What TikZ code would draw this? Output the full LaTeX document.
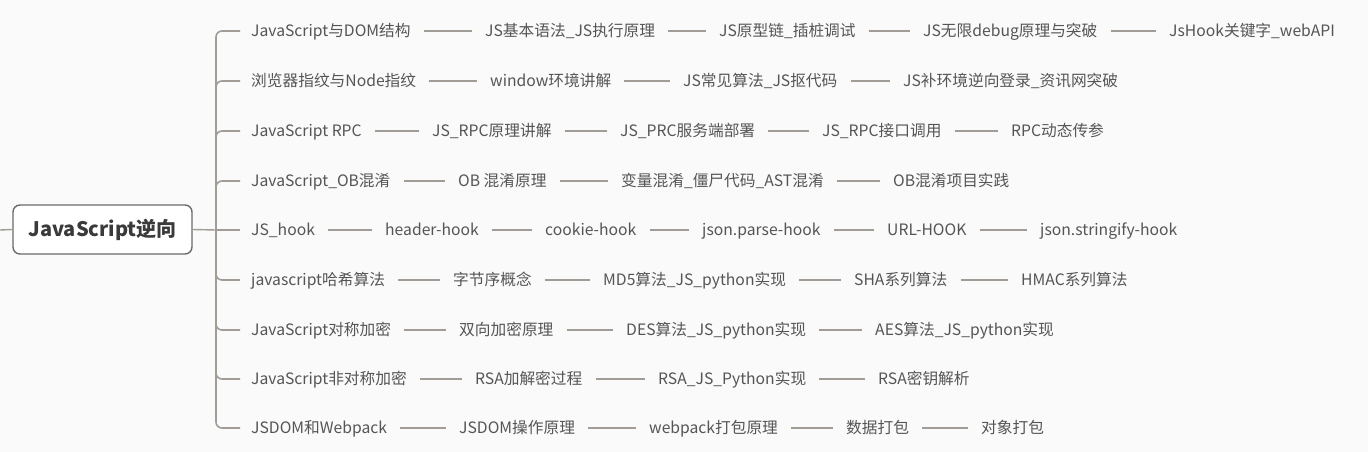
\documentclass[tikz,border=0pt]{standalone}
\usepackage{fontspec}
\setmainfont{Noto Sans CJK SC}
\definecolor{bg}{HTML}{FAFAFA}
\definecolor{txt}{HTML}{555555}
\definecolor{ln}{HTML}{A29C96}
\definecolor{rootbd}{HTML}{6B6B6B}
\definecolor{roottxt}{HTML}{3A3A3A}
\tikzset{
  item/.style={anchor=west, inner xsep=0pt, inner ysep=0pt, text height=13pt, text depth=2pt,
    font=\fontsize{15.7}{18}\selectfont, text=txt},
  link/.style={draw=ln, line width=1.4pt},
  branch/.style={draw=ln, line width=1.6pt, rounded corners=6pt},
  rootbox/.style={draw=rootbd, line width=1.4pt, fill=white, rounded corners=7pt,
    minimum width=179pt, minimum height=49pt, inner sep=0pt,
    font=\fontsize{20}{24}\selectfont\bfseries, text=roottxt}
}
\begin{document}
\begin{tikzpicture}[x=1pt, y=-1pt]
\useasboundingbox (0,0) rectangle (1368,452);
\fill[bg] (0,0) rectangle (1368,452);

\node[rootbox] (root) at (102.5,229.5) {JavaScript逆向};
\coordinate (stub) at (0,230);
\coordinate (hub) at (216,230);
\draw[link] (stub) -- (root.west);

% row 1
\node[item] (r1a) at (251,31) {JavaScript与DOM结构};
\node[item] (r1b) at (485,31) {JS基本语法\_JS执行原理};
\node[item] (r1c) at (719,31) {JS原型链\_插桩调试};
\node[item] (r1d) at (923,31) {JS无限debug原理与突破};
\node[item] (r1e) at (1169,31) {JsHook关键字\_webAPI};
% row 2
\node[item] (r2a) at (251,81) {浏览器指纹与Node指纹};
\node[item] (r2b) at (490,81) {window环境讲解};
\node[item] (r2c) at (683,81) {JS常见算法\_JS抠代码};
\node[item] (r2d) at (903,81) {JS补环境逆向登录\_资讯网突破};
% row 3
\node[item] (r3a) at (251,131) {JavaScript RPC};
\node[item] (r3b) at (432,131) {JS\_RPC原理讲解};
\node[item] (r3c) at (620,131) {JS\_PRC服务端部署};
\node[item] (r3d) at (822,131) {JS\_RPC接口调用};
\node[item] (r3e) at (1011,131) {RPC动态传参};
% row 4
\node[item] (r4a) at (251,181) {JavaScript\_OB混淆};
\node[item] (r4b) at (458,181) {OB 混淆原理};
\node[item] (r4c) at (621,181) {变量混淆\_僵尸代码\_AST混淆};
\node[item] (r4d) at (893,181) {OB混淆项目实践};
% row 5
\node[item] (r5a) at (251,230) {JS\_hook};
\node[item] (r5b) at (385,230) {header-hook};
\node[item] (r5c) at (545,230) {cookie-hook};
\node[item] (r5d) at (702,230) {json.parse-hook};
\node[item] (r5e) at (887,230) {URL-HOOK};
\node[item] (r5f) at (1040,230) {json.stringify-hook};
% row 6
\node[item] (r6a) at (251,280) {javascript哈希算法};
\node[item] (r6b) at (453,280) {字节序概念};
\node[item] (r6c) at (603,280) {MD5算法\_JS\_python实现};
\node[item] (r6d) at (854,280) {SHA系列算法};
\node[item] (r6e) at (1021,280) {HMAC系列算法};
% row 7
\node[item] (r7a) at (251,330) {JavaScript对称加密};
\node[item] (r7b) at (459,330) {双向加密原理};
\node[item] (r7c) at (626,330) {DES算法\_JS\_python实现};
\node[item] (r7d) at (875,330) {AES算法\_JS\_python实现};
% row 8
\node[item] (r8a) at (251,379) {JavaScript非对称加密};
\node[item] (r8b) at (475,379) {RSA加解密过程};
\node[item] (r8c) at (658,379) {RSA\_JS\_Python实现};
\node[item] (r8d) at (878,379) {RSA密钥解析};
% row 9
\node[item] (r9a) at (251,428) {JSDOM和Webpack};
\node[item] (r9b) at (459,428) {JSDOM操作原理};
\node[item] (r9c) at (649,428) {webpack打包原理};
\node[item] (r9d) at (846,428) {数据打包};
\node[item] (r9e) at (981,428) {对象打包};

% trunk and branches
\draw[link] (root.east) -- (hub);
\foreach \n in {r1a,r2a,r3a,r4a,r6a,r7a,r8a,r9a}
  \draw[branch] (hub) |- ([xshift=-11pt]\n.west);
\draw[link] (hub) -- ([xshift=-11pt]r5a.west);

% connectors
\foreach \a/\b in {r1a/r1b,r1b/r1c,r1c/r1d,r1d/r1e,
                   r2a/r2b,r2b/r2c,r2c/r2d,
                   r3a/r3b,r3b/r3c,r3c/r3d,r3d/r3e,
                   r4a/r4b,r4b/r4c,r4c/r4d,
                   r5a/r5b,r5b/r5c,r5c/r5d,r5d/r5e,r5e/r5f,
                   r6a/r6b,r6b/r6c,r6c/r6d,r6d/r6e,
                   r7a/r7b,r7b/r7c,r7c/r7d,
                   r8a/r8b,r8b/r8c,r8c/r8d,
                   r9a/r9b,r9b/r9c,r9c/r9d,r9d/r9e}
  \draw[link] ([xshift=13pt]\a.east) -- ([xshift=-13pt]\b.west);
\end{tikzpicture}
\end{document}
